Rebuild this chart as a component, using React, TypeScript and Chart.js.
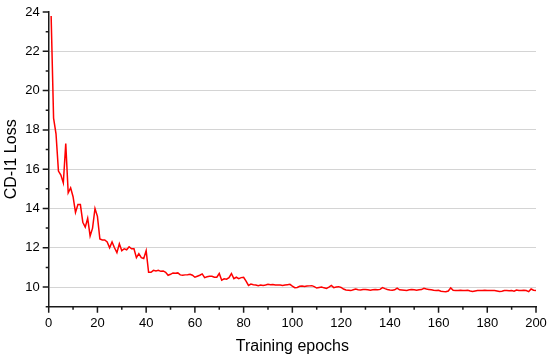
import React, { useEffect, useRef } from "react";
import { Chart, registerables } from "chart.js";

Chart.register(...registerables);

const loss: number[] = [
  23.8, 18.6, 17.8, 15.9, 15.7, 15.3, 17.3, 14.8, 15.05, 14.6,
  13.8, 14.2, 14.2, 13.3, 13.05, 13.5, 12.6, 13.0, 14.0, 13.6,
  12.45, 12.4, 12.4, 12.3, 12.0, 12.3, 12.0, 11.75, 12.2, 11.85,
  11.95, 11.9, 12.05, 11.95, 11.95, 11.5, 11.7, 11.5, 11.45, 11.85,
  10.75, 10.75, 10.85, 10.82, 10.85, 10.8, 10.82, 10.75, 10.6, 10.65,
  10.72, 10.7, 10.72, 10.62, 10.6, 10.62, 10.63, 10.65, 10.6, 10.5,
  10.55, 10.6, 10.67, 10.48, 10.52, 10.55, 10.55, 10.5, 10.5, 10.69,
  10.35, 10.42, 10.4, 10.48, 10.69, 10.43, 10.5, 10.43, 10.48, 10.5,
  10.3, 10.08, 10.15, 10.12, 10.1, 10.07, 10.1, 10.08, 10.1, 10.14,
  10.12, 10.13, 10.1, 10.1, 10.1, 10.08, 10.1, 10.12, 10.14, 10.05,
  9.97, 9.98, 10.04, 10.05, 10.03, 10.05, 10.06, 10.07, 10.02, 9.95,
  9.98, 10.0, 9.96, 9.93, 10.0, 10.08, 9.97, 10.0, 10.02, 9.98,
  9.9, 9.85, 9.84, 9.82, 9.86, 9.9, 9.86, 9.85, 9.87, 9.87,
  9.86, 9.84, 9.86, 9.87, 9.86, 9.88, 9.97, 9.92, 9.88, 9.85,
  9.84, 9.86, 9.94, 9.86, 9.85, 9.84, 9.83, 9.86, 9.87, 9.86,
  9.84, 9.86, 9.87, 9.94, 9.9, 9.88, 9.86, 9.84, 9.83, 9.84,
  9.79, 9.77, 9.76, 9.8, 9.96, 9.84, 9.82, 9.83, 9.84, 9.83,
  9.82, 9.84, 9.8, 9.78, 9.8, 9.82, 9.83, 9.82, 9.84, 9.83,
  9.82, 9.83, 9.82, 9.8, 9.78, 9.79, 9.82, 9.83, 9.81, 9.82,
  9.79, 9.85, 9.83, 9.82, 9.84, 9.82, 9.77, 9.9, 9.84, 9.82,
];
const epochs: number[] = loss.map((_, i) => i + 1);

const yMajorTicks: number[] = [10, 12, 14, 16, 18, 20, 22, 24];
const yMinorTicks: number[] = [9, 11, 13, 15, 17, 19, 21, 23];
const xMajorTicks: number[] = [0, 20, 40, 60, 80, 100, 120, 140, 160, 180, 200];
const xMinorTicks: number[] = [10, 30, 50, 70, 90, 110, 130, 150, 170, 190];
const yGridValues: number[] = [10, 12, 14, 16, 18, 20, 22];

const FONT = "'Liberation Sans', Arial, sans-serif";
const AXIS_COLOR = "#1a1a1a";

const tickMarkPlugin = {
  id: "tickMarks",
  afterDraw(chart: any) {
    const { ctx, chartArea } = chart;
    const xs = chart.scales.x;
    const ys = chart.scales.y;
    ctx.save();
    ctx.strokeStyle = AXIS_COLOR;
    ctx.lineWidth = 1.5;
    ctx.beginPath();
    const drawX = (v: number, len: number) => {
      const px = xs.getPixelForValue(v);
      ctx.moveTo(px, chartArea.bottom);
      ctx.lineTo(px, chartArea.bottom + len);
    };
    const drawY = (v: number, len: number) => {
      const py = ys.getPixelForValue(v);
      ctx.moveTo(chartArea.left, py);
      ctx.lineTo(chartArea.left - len, py);
    };
    xMajorTicks.forEach((v) => drawX(v, 6));
    xMinorTicks.forEach((v) => drawX(v, 3));
    yMajorTicks.forEach((v) => drawY(v, 6));
    yMinorTicks.forEach((v) => drawY(v, 3));
    ctx.stroke();
    ctx.restore();
  },
};

const zeroPadding = (scale: any) => {
  scale.paddingTop = 0;
  scale.paddingBottom = 0;
  scale.paddingLeft = 0;
  scale.paddingRight = 0;
};

export default function App() {
  const ref = useRef<HTMLCanvasElement | null>(null);

  useEffect(() => {
    if (!ref.current) return;
    const chart = new Chart(ref.current, {
      type: "line",
      data: {
        datasets: [
          {
            data: epochs.map((e, i) => ({ x: e, y: loss[i] })),
            borderColor: "#ff0000",
            borderWidth: 1.5,
            pointRadius: 0,
            tension: 0,
            fill: false,
          },
        ],
      },
      options: {
        animation: false,
        responsive: false,
        maintainAspectRatio: false,
        layout: { padding: { left: 0, right: 14, top: 12, bottom: 0 } },
        plugins: { legend: { display: false }, tooltip: { enabled: false } },
        scales: {
          x: {
            type: "linear",
            min: 0,
            max: 200,
            afterBuildTicks: (scale: any) => {
              scale.ticks = xMajorTicks.map((v) => ({ value: v }));
            },
            afterFit: (scale: any) => {
              scale.height = 54.3;
              zeroPadding(scale);
            },
            grid: { display: true, drawOnChartArea: false, drawTicks: false },
            border: { display: true, color: AXIS_COLOR, width: 1.5 },
            ticks: {
              padding: 9,
              color: "#000",
              font: { family: FONT, size: 13 },
              maxRotation: 0,
            },
            title: {
              display: true,
              text: "Training epochs",
              color: "#000",
              font: { family: FONT, size: 16 },
              padding: { top: 0, bottom: 5 },
            },
          },
          y: {
            type: "linear",
            min: 9,
            max: 24,
            afterBuildTicks: (scale: any) => {
              scale.ticks = yMajorTicks.map((v) => ({ value: v }));
            },
            afterFit: (scale: any) => {
              scale.width = 48.7;
              zeroPadding(scale);
            },
            grid: {
              display: true,
              drawTicks: false,
              lineWidth: 1,
              color: (c: any) =>
                c.tick && yGridValues.includes(c.tick.value) ? "#d4d4d4" : "rgba(0,0,0,0)",
            },
            border: { display: true, color: AXIS_COLOR, width: 1.5 },
            ticks: {
              padding: 9,
              color: "#000",
              font: { family: FONT, size: 13 },
            },
            title: {
              display: true,
              text: "CD-I1 Loss",
              color: "#000",
              font: { family: FONT, size: 16 },
              padding: { top: 2, bottom: 0 },
            },
          },
        },
      },
      plugins: [tickMarkPlugin],
    });
    return () => chart.destroy();
  }, []);

  return (
    <div style={{ position: "fixed", left: 0, top: 0, width: 550, height: 361, background: "#fff" }}>
      <canvas ref={ref} width={550} height={361} style={{ display: "block" }} />
    </div>
  );
}
